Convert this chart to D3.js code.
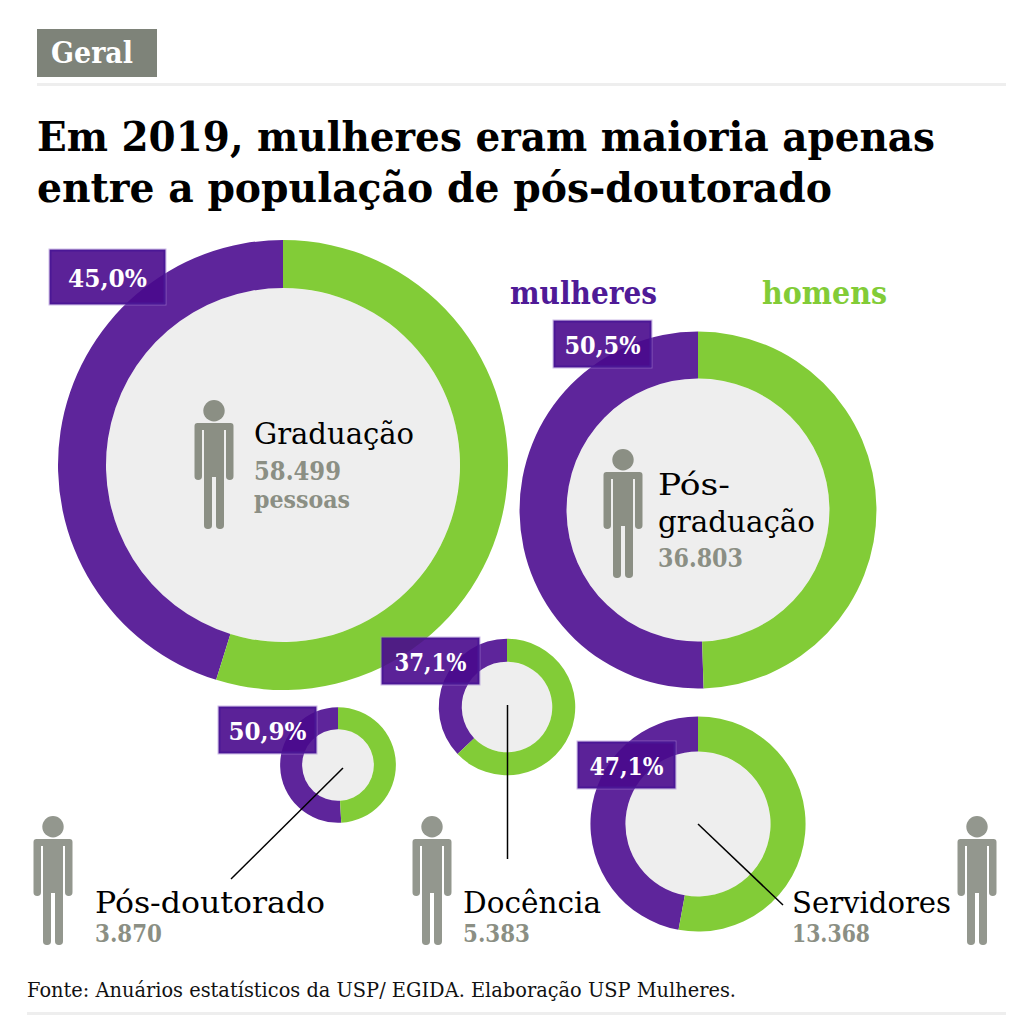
<!DOCTYPE html>
<html><head><meta charset="utf-8">
<script src="https://cdn.jsdelivr.net/npm/d3@7/dist/d3.min.js"></script>
<style>html,body{margin:0;background:#fff}svg{display:block}</style></head>
<body><svg id="c" width="1024" height="1024"></svg>
<script>
const groups = ["Graduação","Pós-graduação","Pós-doutorado","Docência","Servidores"];
const totals = [58499,36803,3870,5383,13368];
const totalLabels = ["58.499","36.803","3.870","5.383","13.368"];
const womenPct = [45.2,50.5,50.9,37.1,47.1];
const pctLabels = ["45,0%","50,5%","50,9%","37,1%","47,1%"];
const seriesNames = ["mulheres","homens"];
const titleLines = ["Em 2019, mulheres eram maioria apenas","entre a população de pós-doutorado"];

const centers = [[283,465],[698,510],[338,765],[507,707],[698,824]];
const thickness = [48,47,22,23,35];
const boxes = [[50.5,250.5,114,53],[554.5,321.5,96,45],[219.5,707.5,96,45],[382.5,638.5,96,45],[578.5,742.5,96,45]];
const pctWidths = [79,76,78,72,74];
const SERIF = "'DejaVu Serif',serif";
const PURPLE="#5e259b", GREEN="#82cc37", GREY="#8b8f84";

const svg = d3.select("#c");
svg.append("rect").attr("width",1024).attr("height",1024).attr("fill","#fff");
const txt=(x,y,s,size,fill,weight,len)=>{const t=svg.append("text").attr("x",x).attr("y",y).text(s)
  .attr("font-family",SERIF).attr("font-size",size).attr("fill",fill).attr("font-weight",weight||400);
  if(len) t.attr("textLength",len).attr("lengthAdjust","spacingAndGlyphs"); return t;};

svg.append("rect").attr("x",37).attr("y",29).attr("width",120).attr("height",48).attr("fill","#7e8379");
txt(51,63,"Geral",29,"#fff",700,82);
svg.append("rect").attr("x",37).attr("y",83).attr("width",969).attr("height",3).attr("fill","#eeeeee");
txt(37,151,titleLines[0],41,"#000",700,898);
txt(37,202,titleLines[1],41,"#000",700,795);

const r = d3.scaleSqrt().domain([0,58499]).range([0,225]);
const pie = d3.pie().sort(null).startAngle(0).endAngle(-2*Math.PI);
groups.forEach((g,i)=>{
  const R=r(totals[i]);
  const gg=svg.append("g").attr("transform",`translate(${centers[i]})`);
  gg.append("circle").attr("r",R-thickness[i]).attr("fill","#eeeeee");
  const arc=d3.arc().innerRadius(R-thickness[i]).outerRadius(R);
  gg.selectAll("path").data(pie([womenPct[i],100-womenPct[i]])).join("path")
    .attr("d",arc).attr("fill",(d,j)=>j?GREEN:PURPLE);
});

// leader lines
const leaders=[[343,768,231,879],[507.5,705,507.5,859],[698,824,783,905]];
leaders.forEach(l=>svg.append("line").attr("x1",l[0]).attr("y1",l[1]).attr("x2",l[2]).attr("y2",l[3]).attr("stroke","#000").attr("stroke-width",1.5));

// percent boxes
boxes.forEach((b,i)=>{
  svg.append("rect").attr("x",b[0]-1.5).attr("y",b[1]-1.5).attr("width",b[2]+3).attr("height",b[3]+3)
    .attr("fill","none").attr("stroke","#a583d3").attr("stroke-width",1).attr("stroke-opacity",.55);
  svg.append("rect").attr("x",b[0]).attr("y",b[1]).attr("width",b[2]).attr("height",b[3])
    .attr("fill","rgb(73,10,141)").attr("fill-opacity",.9).attr("stroke","#4b1796").attr("stroke-width",2);
  txt(b[0]+b[2]/2,b[1]+b[3]/2+10,pctLabels[i],24,"#fff",700,pctWidths[i]).attr("text-anchor","middle");
});

txt(510,304,seriesNames[0],31,"#4f1a97",700,147);
txt(762,304,seriesNames[1],31,"#82cc37",700,125);

// person icons
function person(cx,top,fill){
  const g=svg.append("g").attr("transform",`translate(${cx},${top})`).attr("fill",fill);
  g.append("circle").attr("cx",0).attr("cy",10.7).attr("r",10.7);
  const p=d3.path();
  p.moveTo(-19.5,26); p.quadraticCurveTo(-19.5,23,-16.5,23); p.lineTo(16.5,23); p.quadraticCurveTo(19.5,23,19.5,26);
  p.lineTo(19.5,77); p.arcTo(19.5,80,15.7,80,3.8); p.arcTo(12,80,12,77,3.8);
  p.lineTo(12,30); p.lineTo(10,30); p.lineTo(10,125); p.arcTo(10,129,6,129,3.8); p.arcTo(2,129,2,125,3.8);
  p.lineTo(2,77); p.lineTo(-2,77); p.lineTo(-2,125); p.arcTo(-2,129,-6,129,3.8); p.arcTo(-10,129,-10,125,3.8);
  p.lineTo(-10,30); p.lineTo(-12,30); p.lineTo(-12,77); p.arcTo(-12,80,-15.7,80,3.8); p.arcTo(-19.5,80,-19.5,77,3.8);
  p.closePath();
  g.append("path").attr("d",p.toString());
}
[[214,400,"#8b8f84"],[623,449,"#8b8f84"],[53,816,"#93978e"],[432,816,"#93978e"],[977,816,"#93978e"]].forEach(a=>person(a[0],a[1],a[2]));

// labels
const INK="#000", NUM=GREY;
txt(254,444,groups[0],30,INK,400,160);
txt(254,480,totalLabels[0],26,NUM,700,87);
txt(254,508,"pessoas",24,NUM,700,96);
txt(658,495,"Pós-",30,INK,400,72);
txt(658,532,"graduação",30,INK,400,157);
txt(658,567,totalLabels[1],26,NUM,700,85);
txt(95,913,groups[2],30,INK,400,230);
txt(95,942,totalLabels[2],24,NUM,700,67);
txt(463,913,groups[3],30,INK,400,138);
txt(463,942,totalLabels[3],24,NUM,700,67);
txt(792,913,groups[4],30,INK,400,159);
txt(792,942,totalLabels[4],24,NUM,700,78);
txt(27,997,"Fonte: Anuários estatísticos da USP/ EGIDA. Elaboração USP Mulheres.",20,"#111",400,709);
svg.append("rect").attr("x",27).attr("y",1012).attr("width",979).attr("height",3).attr("fill","#eeeeee");
</script></body></html>
